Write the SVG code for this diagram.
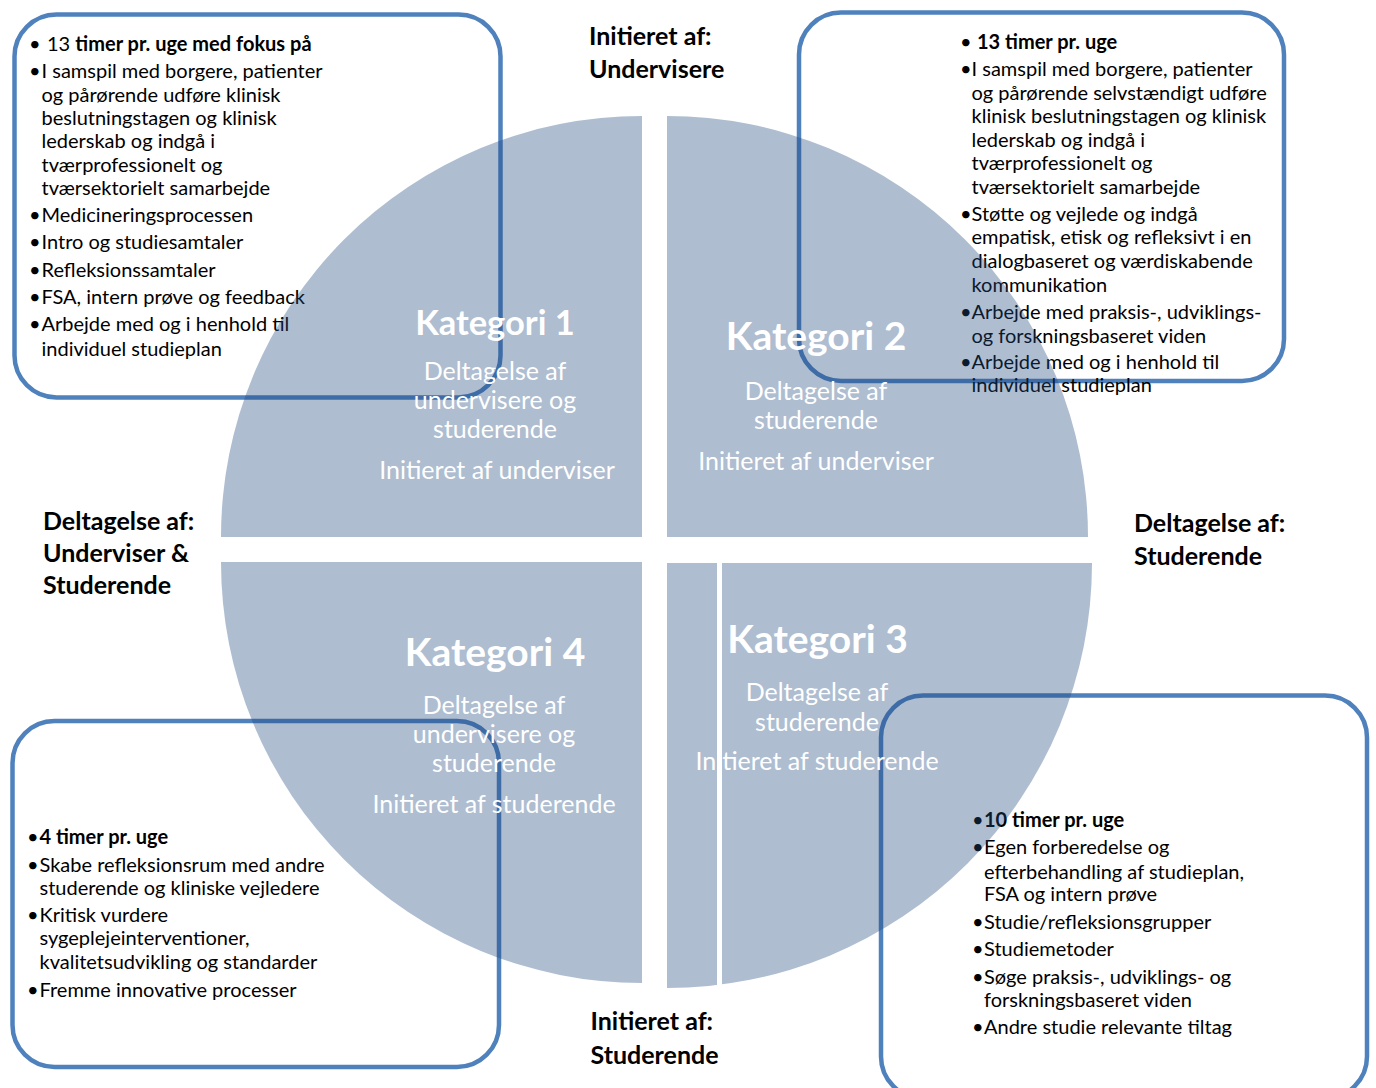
<svg xmlns="http://www.w3.org/2000/svg" width="1376" height="1088" viewBox="0 0 1376 1088">
<style>
.box{fill:#ffffff;stroke:#4f81bd;stroke-width:4.5}
.t{font-family:Lato,"Open Sans",sans-serif;font-size:20px;fill:#000}
.b{font-weight:bold}
.n{font-weight:normal}
.q{fill:#1f497d;fill-opacity:0.36}
.wt{font-family:Lato,"Open Sans",sans-serif;fill:#ffffff;text-anchor:middle}
.kt{font-weight:bold;font-size:39px}
.k1{font-size:34.5px}
.st{font-size:25px}
.lab{font-family:Lato,"Open Sans",sans-serif;font-weight:bold;font-size:25px;fill:#000}
</style>
<rect width="1376" height="1088" fill="#ffffff"/>

<g id="box-tl">
<rect class="box" x="14.5" y="14.5" width="486" height="383" rx="42"/>
<text class="t"><tspan x="29" y="51">•</tspan><tspan x="47" y="51">13 </tspan><tspan class="b">timer pr. uge med fokus på</tspan></text>
<text class="t"><tspan x="29" y="77.5">•</tspan><tspan x="41.5" y="77.5">I samspil med borgere, patienter</tspan><tspan x="41.5" y="101.5">og pårørende udføre klinisk</tspan><tspan x="41.5" y="124.5">beslutningstagen og klinisk</tspan><tspan x="41.5" y="148">lederskab og indgå i</tspan><tspan x="41.5" y="171.5">tværprofessionelt og</tspan><tspan x="41.5" y="195">tværsektorielt samarbejde</tspan></text>
<text class="t"><tspan x="29" y="222">•</tspan><tspan x="41.5" y="222">Medicineringsprocessen</tspan></text>
<text class="t"><tspan x="29" y="249">•</tspan><tspan x="41.5" y="249">Intro og studiesamtaler</tspan></text>
<text class="t"><tspan x="29" y="276.5">•</tspan><tspan x="41.5" y="276.5">Refleksionssamtaler</tspan></text>
<text class="t"><tspan x="29" y="304">•</tspan><tspan x="41.5" y="304">FSA, intern prøve og feedback</tspan></text>
<text class="t"><tspan x="29" y="331">•</tspan><tspan x="41.5" y="331">Arbejde med og i henhold til</tspan><tspan x="41.5" y="355.5">individuel studieplan</tspan></text>
</g>

<g id="box-tr">
<rect class="box" x="799" y="12.5" width="485" height="368.5" rx="42"/>
<text class="t"><tspan x="960" y="48.5">•</tspan><tspan class="b" x="977" y="48.5">13 timer pr. uge</tspan></text>
<text class="t"><tspan x="960" y="76">•</tspan><tspan x="971.5" y="76">I samspil med borgere, patienter</tspan><tspan x="971.5" y="99.5">og pårørende selvstændigt udføre</tspan><tspan x="971.5" y="123">klinisk beslutningstagen og klinisk</tspan><tspan x="971.5" y="146.5">lederskab og indgå i</tspan><tspan x="971.5" y="170">tværprofessionelt og</tspan><tspan x="971.5" y="193.5">tværsektorielt samarbejde</tspan></text>
<text class="t"><tspan x="960" y="220.5">•</tspan><tspan x="971.5" y="220.5">Støtte og vejlede og indgå</tspan><tspan x="971.5" y="244">empatisk, etisk og refleksivt i en</tspan><tspan x="971.5" y="268">dialogbaseret og værdiskabende</tspan><tspan x="971.5" y="291.5">kommunikation</tspan></text>
<text class="t"><tspan x="960" y="319">•</tspan><tspan x="971.5" y="319">Arbejde med praksis-, udviklings-</tspan><tspan x="971.5" y="342.5">og forskningsbaseret viden</tspan></text>
<text class="t"><tspan x="960" y="369">•</tspan><tspan x="971.5" y="369">Arbejde med og i henhold til</tspan><tspan x="971.5" y="391.5">individuel studieplan</tspan></text>
</g>

<g id="box-bl">
<rect class="box" x="12.5" y="721" width="486.5" height="346" rx="42"/>
<text class="t"><tspan x="27" y="843.5">•</tspan><tspan class="b" x="39.5" y="843.5">4 timer pr. uge</tspan></text>
<text class="t"><tspan x="27" y="871.5">•</tspan><tspan x="39.5" y="871.5">Skabe refleksionsrum med andre</tspan><tspan x="39.5" y="895">studerende og kliniske vejledere</tspan></text>
<text class="t"><tspan x="27" y="922">•</tspan><tspan x="39.5" y="922">Kritisk vurdere</tspan><tspan x="39.5" y="945">sygeplejeinterventioner,</tspan><tspan x="39.5" y="968.5">kvalitetsudvikling og standarder</tspan></text>
<text class="t"><tspan x="27" y="996.5">•</tspan><tspan x="39.5" y="996.5">Fremme innovative processer</tspan></text>
</g>

<g id="box-br">
<rect class="box" x="881" y="695.5" width="486" height="403" rx="42"/>
<text class="t"><tspan x="972" y="826.5">•</tspan><tspan class="b" x="984" y="826.5">10 timer pr. uge</tspan></text>
<text class="t"><tspan x="972" y="853.5">•</tspan><tspan x="984" y="853.5">Egen forberedelse  og</tspan><tspan x="984" y="878.5">efterbehandling af studieplan,</tspan><tspan x="984" y="901">FSA og intern prøve</tspan></text>
<text class="t"><tspan x="972" y="928.5">•</tspan><tspan x="984" y="928.5">Studie/refleksionsgrupper</tspan></text>
<text class="t"><tspan x="972" y="956">•</tspan><tspan x="984" y="956">Studiemetoder</tspan></text>
<text class="t"><tspan x="972" y="983.5">•</tspan><tspan x="984" y="983.5">Søge praksis-, udviklings- og</tspan><tspan x="984" y="1007">forskningsbaseret viden</tspan></text>
<text class="t"><tspan x="972" y="1033.5">•</tspan><tspan x="984" y="1033.5">Andre studie relevante tiltag</tspan></text>
</g>

<g id="circle">
<path id="q1" class="q" d="M642,537 L221,537 A421,421 0 0 1 642,116 Z"/>
<path id="q2" class="q" d="M667,537 L667,116 A421,421 0 0 1 1088,537 Z"/>
<path id="q3" class="q" d="M667,563 L1092,563 A425,425 0 0 1 667,988 Z"/>
<path id="q4" class="q" d="M642,562 L642,983 A421,421 0 0 1 221,562 Z"/>
<rect x="717" y="563" width="5" height="430" fill="#ffffff"/>
</g>

<g id="kategori-1">
<text class="wt kt k1" x="495" y="335">Kategori 1</text>
<text class="wt st"><tspan x="495" y="380">Deltagelse af</tspan><tspan x="495" y="409">undervisere og</tspan><tspan x="495" y="438">studerende</tspan><tspan x="497" y="479">Initieret af underviser</tspan></text>
</g>
<g id="kategori-2">
<text class="wt kt" x="816" y="350">Kategori 2</text>
<text class="wt st"><tspan x="816" y="399.5">Deltagelse af</tspan><tspan x="816" y="428.5">studerende</tspan><tspan x="816" y="470">Initieret af underviser</tspan></text>
</g>
<g id="kategori-3">
<text class="wt kt" x="817.5" y="653">Kategori 3</text>
<text class="wt st"><tspan x="817" y="701">Deltagelse af</tspan><tspan x="817" y="731">studerende</tspan><tspan x="817" y="770">Initieret af studerende</tspan></text>
</g>
<g id="kategori-4">
<text class="wt kt" x="495" y="666">Kategori 4</text>
<text class="wt st"><tspan x="494" y="713.5">Deltagelse af</tspan><tspan x="494" y="743">undervisere og</tspan><tspan x="494" y="772">studerende</tspan><tspan x="494" y="813">Initieret af studerende</tspan></text>
</g>

<g id="axis-labels">
<text class="lab"><tspan x="589" y="45">Initieret af:</tspan><tspan x="589" y="77.5">Undervisere</tspan></text>
<text class="lab"><tspan x="43" y="529.5">Deltagelse af:</tspan><tspan x="43" y="561.5">Underviser &amp;</tspan><tspan x="43" y="593.5">Studerende</tspan></text>
<text class="lab"><tspan x="1134" y="532">Deltagelse af:</tspan><tspan x="1134" y="565">Studerende</tspan></text>
<text class="lab"><tspan x="590.5" y="1030">Initieret af:</tspan><tspan x="590.5" y="1063.5">Studerende</tspan></text>
</g>
</svg>
